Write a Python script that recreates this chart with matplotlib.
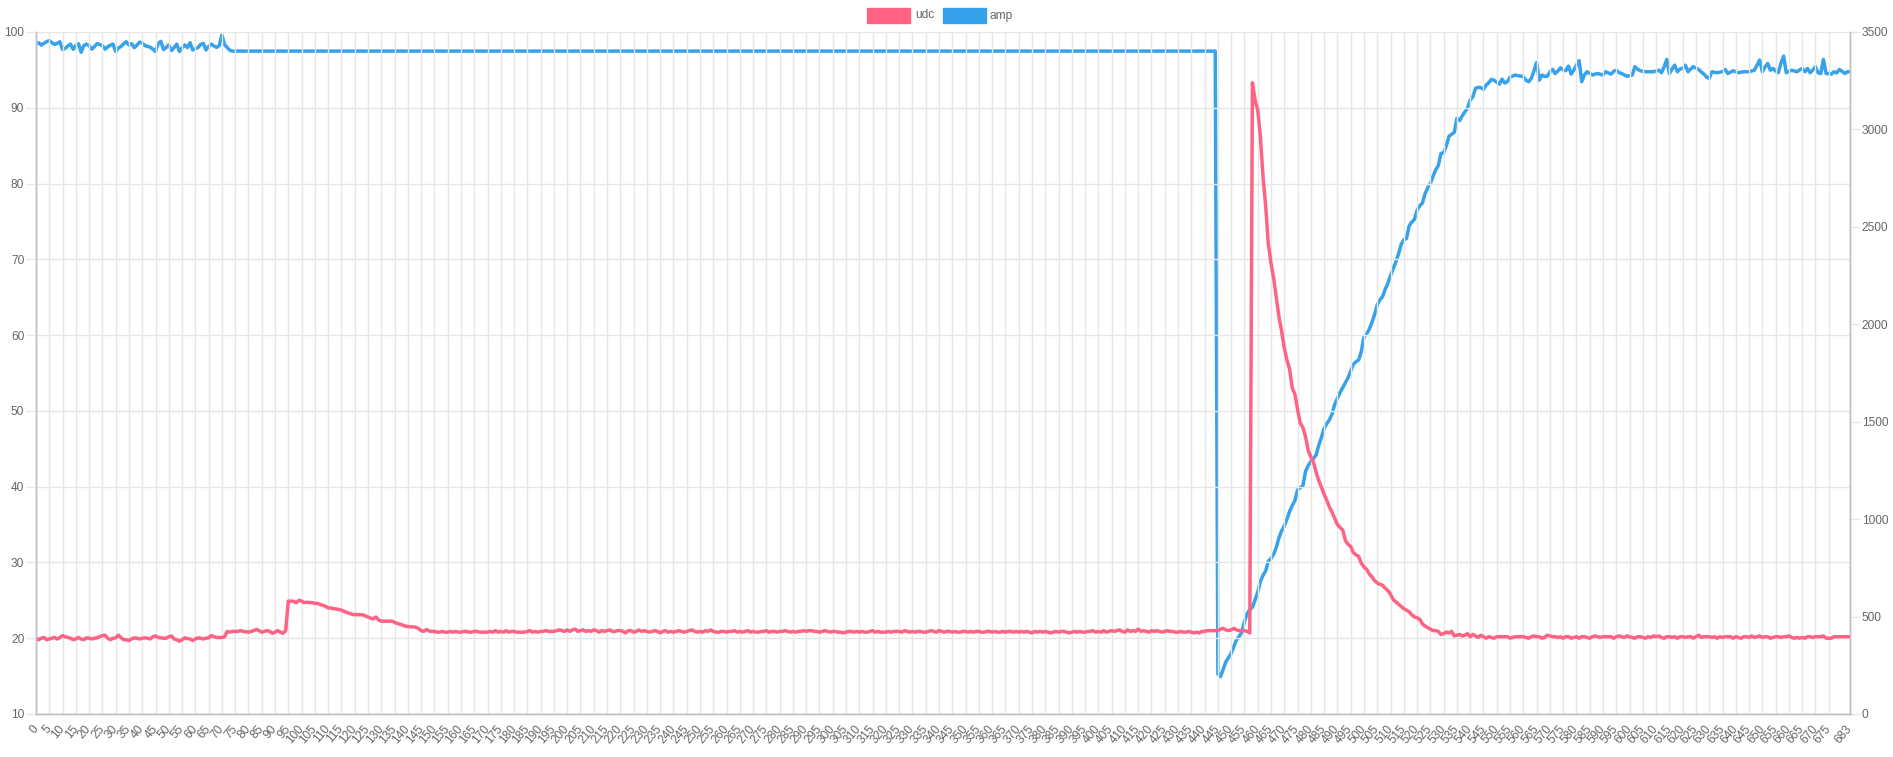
import matplotlib

matplotlib.use("Agg")
import matplotlib.pyplot as plt
from matplotlib.patches import Rectangle

W, H = 1893, 757

# x labels are sample indices 0..683
n_points = 684

# udc (left axis)
udc_start = [
    20.0, 19.8, 20.0, 20.1, 19.8, 19.9, 20.0, 20.1, 19.9, 20.1,
    20.35, 20.2, 20.1, 20.0, 19.8, 19.9, 20.1, 19.9, 19.8, 20.05,
    20.0, 19.9, 20.0, 20.05, 20.2, 20.35, 20.4, 20.0, 19.8, 20.0,
    20.05, 20.4, 20.1, 19.8, 19.8, 19.7, 19.9, 20.05, 20.0, 19.9,
    20.0, 20.05, 20.0, 19.9, 20.2, 20.3, 20.1, 20.05, 20.0, 20.0,
    20.2, 20.3, 19.9, 19.8, 19.6, 19.8, 20.05, 19.95, 19.9, 19.7,
    19.9, 20.05, 20.0, 19.9, 20.0, 20.05, 20.35, 20.2, 20.1, 20.1,
    20.1, 20.2, 20.9, 20.8, 20.9, 20.9, 20.9, 21.0, 20.9, 20.85,
    20.8, 20.9, 21.0, 21.15, 21.0, 20.8, 20.9, 21.0, 20.9, 20.65,
    20.8, 21.0, 20.8, 20.65, 21.0, 24.9, 24.9, 24.85, 24.7, 25.0,
    24.9, 24.7, 24.75, 24.7, 24.7, 24.6, 24.6, 24.45, 24.35, 24.2,
    24.0, 24.0, 23.9, 23.85, 23.8, 23.7, 23.55, 23.4, 23.3, 23.15,
    23.1, 23.1, 23.1, 23.1, 22.95, 22.8, 22.65, 22.55, 22.8, 22.4,
    22.25, 22.25, 22.25, 22.25, 22.25, 22.1, 21.95, 21.85, 21.75, 21.6,
    21.55, 21.5, 21.5, 21.45, 21.3, 21.0, 20.9, 21.15, 20.95, 20.9,
]
udc_idle = [
    20.9, 20.8, 20.8, 20.9, 20.8, 20.8, 20.9, 20.8, 20.9, 20.8,
    20.8, 20.9, 20.9, 20.8, 20.8, 20.9, 20.9, 20.8, 20.8, 20.8,
    20.8, 20.9, 20.8, 21.0, 20.8, 20.9, 20.8, 21.0, 20.8, 20.9,
    20.9, 20.8, 20.8, 20.8, 20.8, 20.9, 21.0, 20.8, 20.9, 20.8,
    20.9, 20.9, 21.0, 20.9, 20.9, 20.9, 21.0, 21.1, 21.0, 20.9,
    21.1, 20.9, 21.1, 21.2, 20.9, 21.0, 21.1, 20.9, 21.0, 20.9,
    21.1, 21.0, 20.8, 21.0, 20.9, 21.0, 21.1, 20.9, 20.9, 21.0,
    21.0, 20.9, 20.7, 21.0, 21.0, 20.8, 20.9, 21.1, 20.9, 21.0,
    20.9, 20.8, 20.9, 21.0, 20.9, 20.7, 20.9, 21.0, 20.8, 20.9,
    20.8, 20.9, 21.0, 20.9, 20.8, 20.9, 21.0, 21.1, 20.9, 20.8,
    20.9, 20.8, 21.0, 20.9, 21.1, 20.9, 20.8, 20.8, 20.9, 20.9,
    20.8, 20.9, 20.9, 21.0, 20.8, 20.9, 20.8, 20.9, 21.0, 20.8,
    20.9, 20.8, 20.8, 20.9, 20.9, 21.0, 20.8, 20.9, 20.9, 20.8,
    20.9, 20.9, 21.0, 20.9, 20.8, 20.9, 20.8, 20.9, 20.9, 21.0,
    20.9, 21.0, 21.0, 20.9, 20.9, 20.8, 20.9, 21.0, 20.9, 20.8,
    20.9, 20.9, 20.8, 20.8, 20.7, 20.8, 20.9, 20.9, 20.8, 20.9,
    20.8, 20.9, 20.8, 20.8, 20.9, 21.0, 20.8, 20.9, 20.8, 20.8,
    20.8, 20.9, 20.8, 20.9, 20.9, 20.9, 20.8, 21.0, 20.9, 20.8,
    20.9, 20.8, 20.9, 20.9, 20.8, 20.8, 20.9, 21.0, 20.9, 20.8,
    21.0, 20.9, 20.8, 20.9, 20.9, 20.8, 20.9, 20.8, 20.8, 20.9,
    20.9, 20.8, 20.9, 20.8, 20.9, 20.9, 20.8, 20.8, 20.9, 20.9,
    20.8, 20.9, 20.8, 20.8, 20.9, 20.8, 20.9, 20.9, 20.8, 20.9,
    20.8, 20.9, 20.8, 20.9, 20.8, 20.7, 20.9, 20.8, 20.9, 20.8,
    20.9, 20.8, 20.7, 20.8, 20.9, 20.8, 20.9, 20.9, 20.8, 20.7,
    20.8, 20.9, 20.8, 20.9, 20.8, 20.8, 20.9, 20.9, 21.0, 20.8,
    20.9, 20.8, 21.0, 20.8, 20.9, 21.0, 20.9, 21.0, 21.1, 20.9,
    20.8, 21.1, 20.9, 21.0, 20.9, 21.2, 20.9, 21.0, 20.9, 20.8,
    21.0, 20.9, 21.0, 20.9, 20.8, 20.9, 21.0, 20.9, 20.9, 20.8,
    20.8, 20.9, 20.8, 20.8, 20.9, 20.8, 20.7, 20.8, 20.7, 20.9,
    20.9, 21.0, 21.0, 21.0, 21.0,
]
udc_surge = [
    21.0, 21.2, 21.3, 21.1, 21.0, 21.1, 21.3, 21.1, 21.0, 21.0,
    21.0, 20.9, 20.7, 93.3, 91.0, 89.7, 86.2, 80.9, 77.0, 72.0,
    69.5, 67.5, 65.0, 62.4, 60.5, 58.3, 56.7, 55.5, 53.0, 52.2,
    50.2, 48.4, 47.8, 46.6, 44.8, 43.9, 43.2, 41.9, 40.8, 39.9,
    39.0, 38.2, 37.3, 36.6, 35.8, 35.0, 34.6, 34.3, 32.9, 32.4,
    32.1, 31.3, 31.0, 30.8, 29.9, 29.4, 29.1, 28.5, 28.1, 27.6,
    27.3, 27.1, 27.0, 26.6, 26.3, 25.8, 25.1, 24.8, 24.5, 24.2,
    23.9, 23.7, 23.5, 23.1, 22.8, 22.7, 22.5, 21.9, 21.6, 21.4,
    21.2, 21.0, 21.0, 20.9, 20.5, 20.6, 20.8, 20.7, 20.9, 20.3,
    20.4, 20.5, 20.3, 20.4, 20.6, 20.2, 20.5, 20.3, 20.1, 20.4,
    20.2, 20.0, 20.2, 20.1, 20.0, 20.2,
]
udc_end = [
    20.2, 20.2, 20.2, 20.2, 20.0, 20.1, 20.2, 20.2, 20.2, 20.2,
    20.1, 20.0, 20.2, 20.3, 20.2, 20.2, 20.0, 20.1, 20.4, 20.3,
    20.2, 20.2, 20.1, 20.2, 20.0, 20.2, 20.2, 20.0, 20.1, 20.2,
    20.0, 20.2, 20.2, 20.1, 20.0, 20.2, 20.3, 20.2, 20.1, 20.2,
    20.2, 20.2, 20.2, 20.0, 20.2, 20.3, 20.2, 20.1, 20.3, 20.2,
    20.1, 20.0, 20.2, 20.2, 20.1, 20.0, 20.2, 20.1, 20.3, 20.2,
    20.3, 20.1, 20.0, 20.2, 20.2, 20.1, 20.2, 20.0, 20.2, 20.2,
    20.1, 20.2, 20.2, 20.0, 20.2, 20.4, 20.1, 20.2, 20.2, 20.2,
    20.1, 20.2, 20.0, 20.2, 20.1, 20.2, 20.2, 20.2, 20.0, 20.2,
    20.1, 20.0, 20.2, 20.2, 20.1, 20.3, 20.1, 20.2, 20.3, 20.1,
    20.2, 20.2, 20.0, 20.1, 20.2, 20.2, 20.1, 20.2, 20.2, 20.3,
    20.1, 20.0, 20.1, 20.0, 20.1, 20.0, 20.2, 20.2, 20.1, 20.2,
    20.2, 20.2, 20.3, 20.0, 20.0, 20.0, 20.2, 20.2, 20.2, 20.2,
    20.2, 20.2, 20.2,
]

# amp (right axis)
amp_start = [
    3438, 3445, 3433, 3442, 3450, 3456, 3445, 3436, 3442, 3450,
    3410, 3416, 3428, 3438, 3411, 3430, 3440, 3396, 3430, 3438,
    3430, 3412, 3425, 3440, 3436, 3430, 3412, 3424, 3432, 3438,
    3400, 3418, 3426, 3440, 3450, 3432, 3440, 3420, 3432, 3448,
    3444, 3430, 3426, 3422, 3412, 3400, 3440, 3452, 3410, 3420,
    3434, 3405, 3420, 3438, 3400, 3418, 3434, 3420, 3445, 3408,
    3414, 3420, 3436, 3442, 3408, 3426, 3438, 3428, 3421, 3430,
    3485, 3435, 3420, 3406, 3402,
]
amp_hold = [3402] * 370
amp_recovery = [
    205, 192, 230, 268, 290, 311, 345, 380, 398, 420,
    474, 515, 535, 548, 585, 625, 680, 712, 735, 785,
    797, 820, 855, 905, 940, 965, 1000, 1040, 1070, 1095,
    1150, 1162, 1170, 1245, 1275, 1295, 1312, 1330, 1380, 1420,
    1466, 1490, 1510, 1540, 1590, 1620, 1650, 1675, 1700, 1725,
    1760, 1795, 1808, 1817, 1860, 1936, 1950, 1975, 2010, 2050,
    2100, 2125, 2142, 2180, 2210, 2250, 2285, 2320, 2360, 2410,
    2434, 2440, 2505, 2525, 2538, 2585, 2608, 2622, 2670, 2700,
    2723, 2760, 2792, 2815, 2877, 2880, 2915, 2965, 2975, 2985,
    3057, 3045, 3070, 3090, 3110, 3151, 3168, 3211, 3216, 3215,
    3205, 3228, 3240, 3257, 3252, 3242, 3232, 3258, 3238, 3245,
    3268, 3274, 3279, 3276, 3274, 3270, 3252, 3245, 3262, 3300,
    3343, 3253, 3279, 3272, 3273, 3295, 3308, 3287, 3300, 3316,
    3305, 3301, 3325, 3284, 3304, 3330, 3353, 3245, 3280, 3296,
    3288, 3279, 3284, 3287, 3283, 3279, 3296, 3290, 3284, 3298,
    3304, 3292, 3287, 3280, 3273, 3276, 3279, 3322, 3310, 3301,
    3298, 3296, 3296, 3296, 3296, 3300, 3304, 3291, 3320, 3359,
    3287, 3310, 3330, 3296, 3310, 3313, 3330, 3296, 3310, 3322,
    3315, 3308, 3295, 3284, 3268, 3262, 3296, 3293, 3291, 3294,
    3296, 3308, 3287, 3294, 3301, 3296, 3291, 3294, 3296, 3296,
    3296, 3300, 3304, 3330, 3356, 3296, 3320, 3339, 3304, 3313,
    3300, 3291, 3340, 3376, 3291, 3298, 3304, 3300, 3296, 3305,
    3313, 3296, 3313, 3291, 3305, 3322, 3290, 3287, 3359, 3287,
    3286, 3284, 3296, 3290, 3308, 3298, 3287, 3296, 3296,
]

udc = udc_start + udc_idle + udc_surge + udc_end
amp = amp_start + amp_hold + amp_recovery

x_ticks = list(range(0, 680, 5)) + [683]
left_ticks = list(range(10, 101, 10))
right_ticks = list(range(0, 3501, 500))

RED = "#ff6384"
BLUE = "#36a2eb"
GRID = "#e6e6e6"
AXIS = "#bfbfbf"
TEXT = "#666666"
FONT = "Liberation Sans"
FS = 8.6


def px_box(x0, y0, x1, y1):
    # pixel box (top-left origin) -> figure fraction rect
    return [x0 / W, 1 - y1 / H, (x1 - x0) / W, (y1 - y0) / H]


def main() -> None:
    assert len(udc) == n_points and len(amp) == n_points
    xs = list(range(n_points))

    fig = plt.figure(figsize=(W / 100, H / 100), dpi=100)
    ax = fig.add_axes(px_box(36, 32, 1850, 714))
    ax2 = ax.twinx()

    ax.set_xlim(0, n_points - 1)
    ax.set_ylim(10, 100)
    ax2.set_ylim(0, 3500)

    ax.set_xticks(x_ticks)
    ax.set_xticklabels([str(t) for t in x_ticks], rotation=50, ha="right", va="center",
                       rotation_mode="anchor")
    ax.set_yticks(left_ticks)
    ax2.set_yticks(right_ticks)

    ax.grid(True, color=GRID, linewidth=1.0)
    ax.set_axisbelow(True)
    ax2.grid(False)

    for a in (ax, ax2):
        for side, sp in a.spines.items():
            sp.set_color(AXIS)
            sp.set_linewidth(1.0)
        a.spines["top"].set_visible(False)

    ax.tick_params(axis="x", length=0, pad=9, labelsize=FS, labelcolor=TEXT)
    ax.tick_params(axis="y", length=7, width=1, color=GRID, pad=1.5, labelsize=FS, labelcolor=TEXT)
    ax2.tick_params(axis="y", length=7, width=1, color=GRID, pad=1.5, labelsize=FS, labelcolor=TEXT)
    for lab in ax.get_xticklabels() + ax.get_yticklabels() + ax2.get_yticklabels():
        lab.set_fontfamily(FONT)

    ax2.plot(xs, amp, color=BLUE, linewidth=2.5, solid_joinstyle="round", solid_capstyle="round")
    ax.plot(xs, udc, color=RED, linewidth=2.5, solid_joinstyle="round", solid_capstyle="round")
    # udc is the first dataset, so it sits on top like in Chart.js
    ax.set_zorder(3)
    ax2.set_zorder(2)
    ax.patch.set_visible(False)
    ax2.patch.set_visible(False)

    # legend, drawn the Chart.js way: box + label
    items = [("udc", RED, 867, 915), ("amp", BLUE, 943, 990)]
    for name, color, bx, tx in items:
        fig.add_artist(Rectangle((bx / W, 1 - 23 / H), 43 / W, 15 / H, transform=fig.transFigure,
                                 facecolor=color, edgecolor=color, linewidth=1.0))
        fig.text(tx / W, 1 - 15.5 / H, name, ha="left", va="center", fontsize=FS,
                 color=TEXT, fontfamily=FONT)

    fig.savefig("out.png", dpi=100)
    plt.close(fig)


if __name__ == "__main__":
    main()
